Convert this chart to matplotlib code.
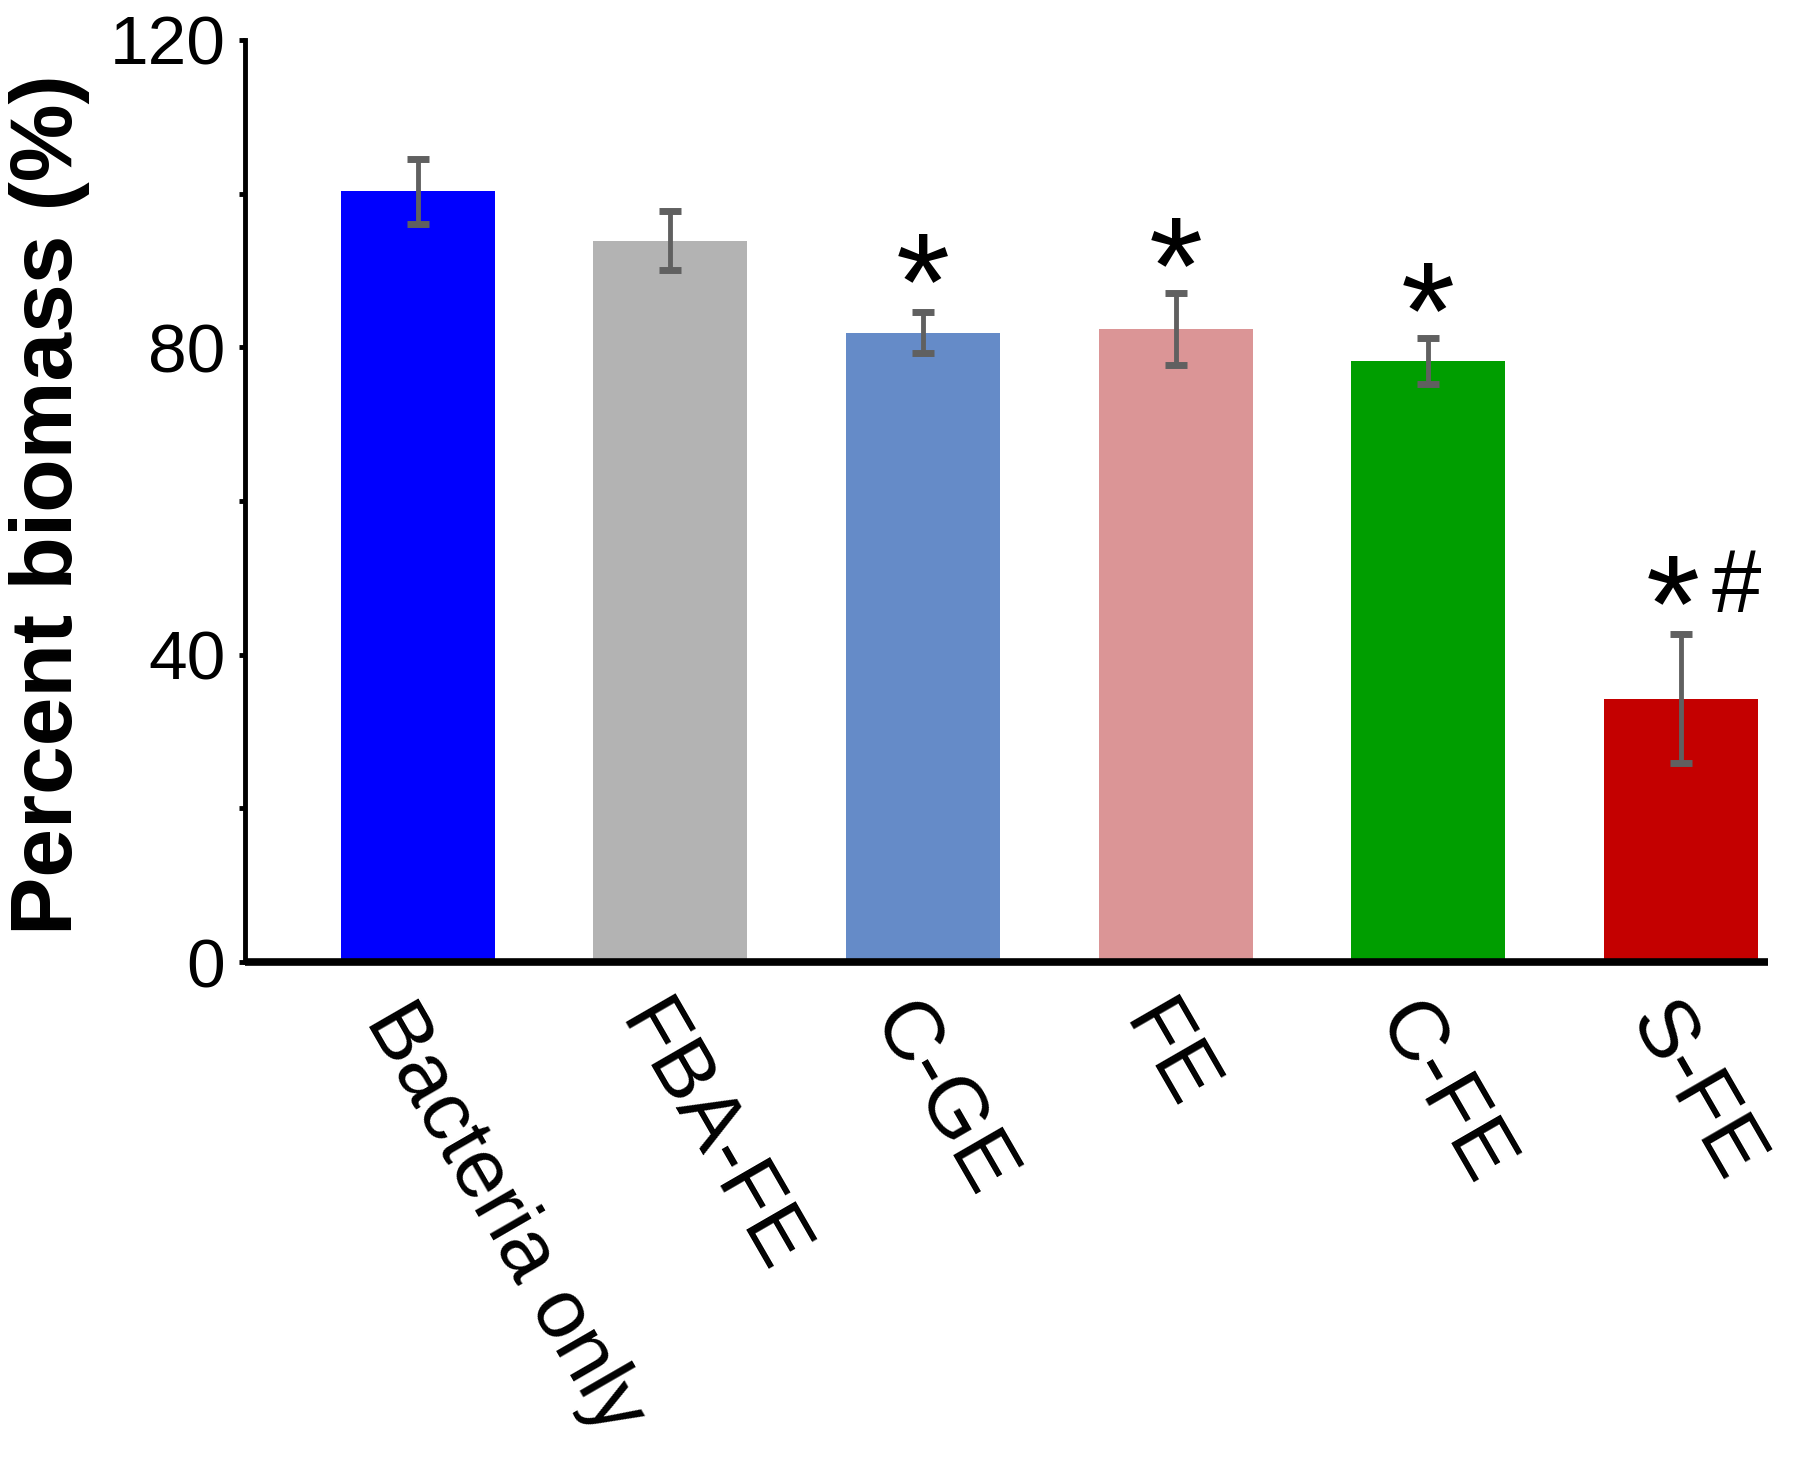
import matplotlib
matplotlib.use("Agg")
import matplotlib.pyplot as plt
import numpy as np

categories = ["Bacteria only", "FBA-FE", "C-GE", "FE", "C-FE", "S-FE"]
values = [100.3, 93.9, 81.9, 82.4, 78.2, 34.3]
errors = [4.2, 3.8, 2.7, 4.7, 3.0, 8.4]
colors = ["#0000FF", "#B3B3B3", "#658BC8", "#DB9596", "#009E00", "#C40000"]
ytick_values = [0, 20, 40, 60, 80, 100, 120]
ytick_labels = ["0", "", "40", "", "80", "", "120"]
# significance markers: (category index, text, x offset, top y)
marks = [(2, "*", 0.0, 95.5), (3, "*", 0.0, 97.6), (4, "*", 0.0, 91.8),
         (5, "*", -0.03, 53.6)]
hash_marks = [(5, "#", 0.22, 54.0)]

plt.rcParams['font.family'] = ['Liberation Sans', 'DejaVu Sans']

fig = plt.figure(figsize=(18, 14.65), dpi=100)
ax = fig.add_axes([0.136, 0.3433, 0.846, 0.6294])

x = np.arange(len(categories))
ax.bar(x, values, width=0.61, color=colors, edgecolor='none', zorder=2)
ax.errorbar(x, values, yerr=errors, fmt='none', ecolor='#606060',
            elinewidth=3.5, capsize=8, capthick=5, zorder=3)

for i, t, dx, yt in marks:
    ax.text(i + dx, yt, t, ha='center', va='top', fontsize=100,
            color='black')
for i, t, dx, yt in hash_marks:
    ax.text(i + dx, yt, t, ha='center', va='top', fontsize=64,
            color='black')

ax.set_xlim(-0.685, 5.344)
ax.set_ylim(0, 120)
ax.set_yticks(ytick_values)
ax.set_yticklabels(ytick_labels)
ax.tick_params(axis='y', direction='out', length=4, width=3.5,
               labelsize=50, pad=10)
ax.set_xticks(x)
ax.set_xticklabels(categories, rotation=-60, ha='left', va='top',
                   rotation_mode='anchor', fontsize=60)
ax.tick_params(axis='x', length=0, pad=20)

for s in ['top', 'right']:
    ax.spines[s].set_visible(False)
ax.spines['left'].set_linewidth(3.5)
ax.spines['bottom'].set_linewidth(5.5)
ax.spines['bottom'].set_capstyle('butt')

fig.text(50 / 1800, 1 - 505 / 1465, "Percent biomass (%)", rotation=90,
         ha='center', va='center', fontsize=63, fontweight='bold')

fig.savefig("out.png", dpi=100)
